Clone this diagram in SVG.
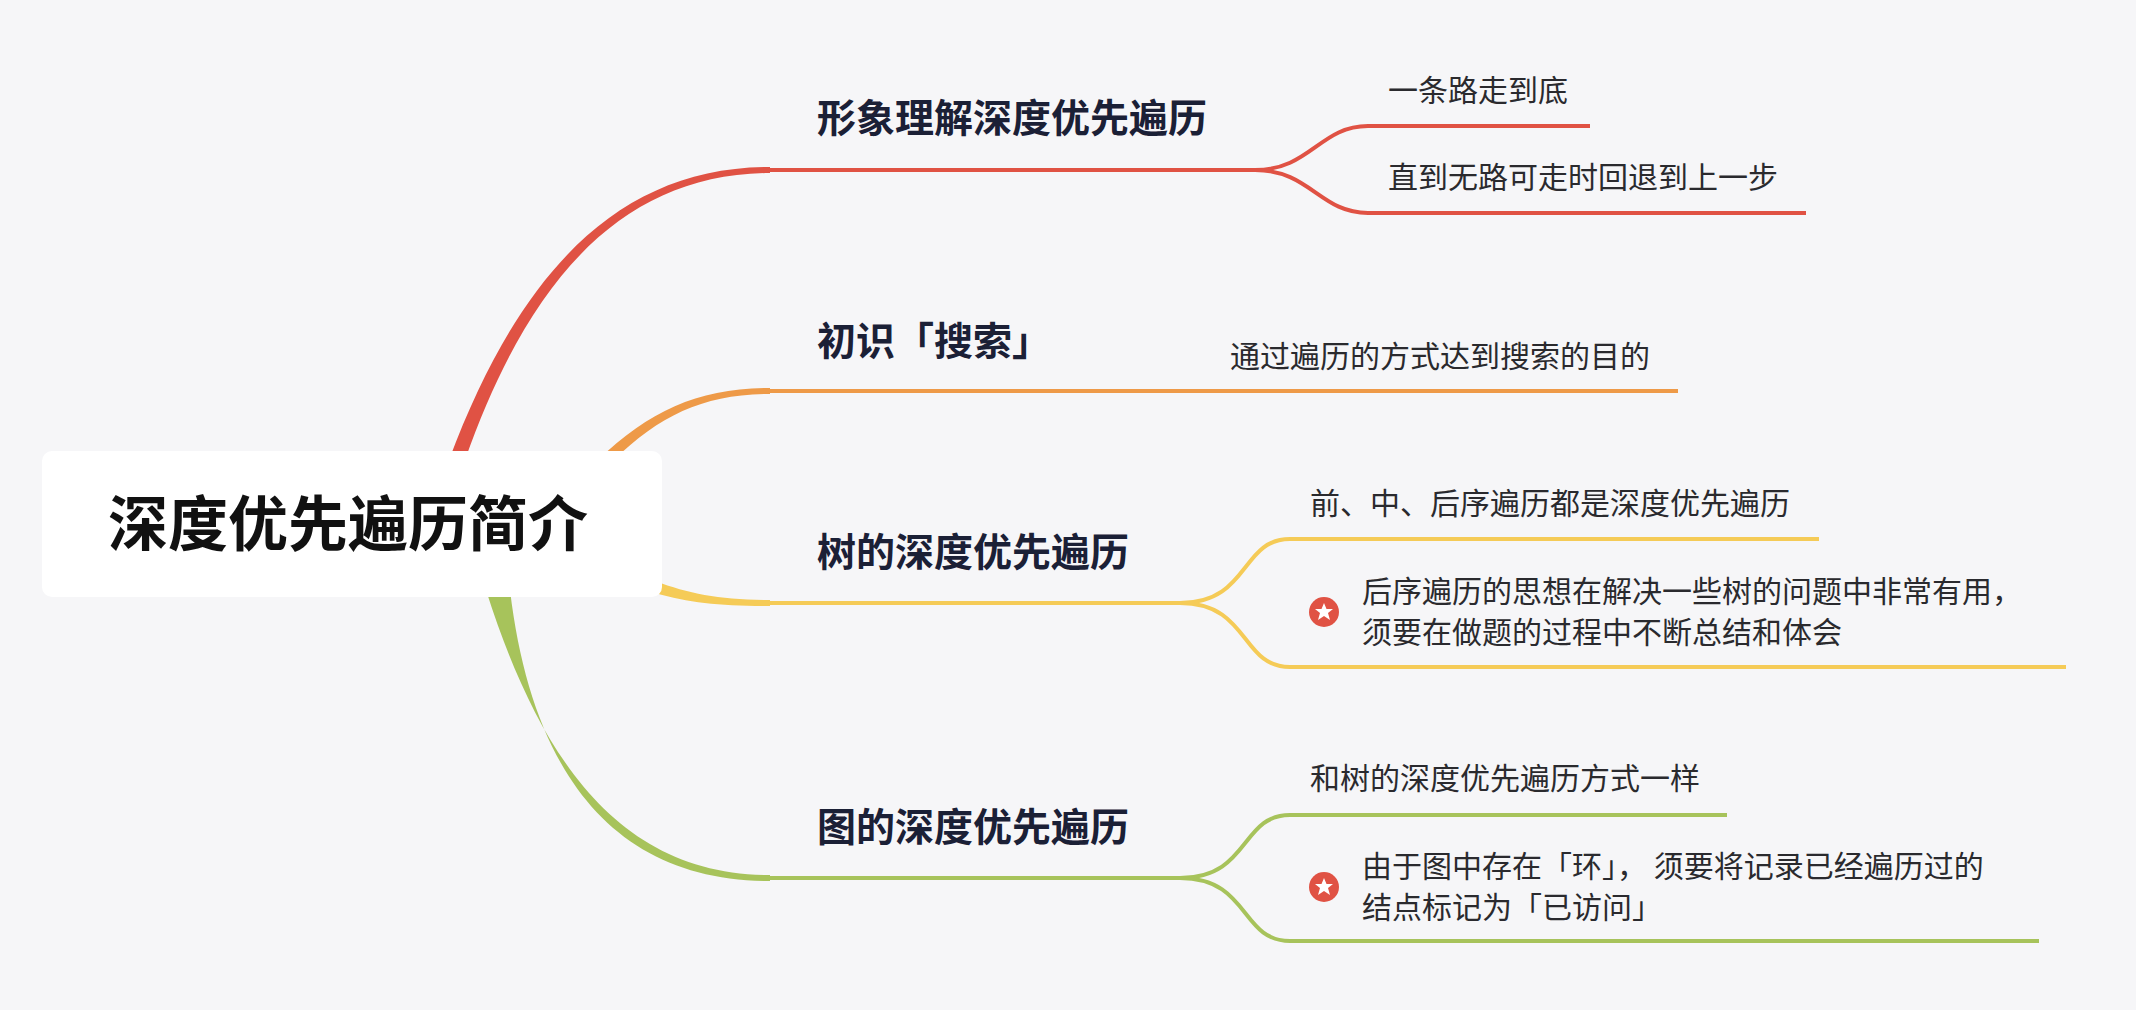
<svg xmlns="http://www.w3.org/2000/svg" width="2136" height="1010" viewBox="0 0 2136 1010">
<style>
.t{font-family:"Noto Sans CJK SC","Noto Sans",sans-serif;}
.main{font-size:39px;font-weight:bold;fill:#1B2036;}
.sub{font-size:30px;fill:#2A2A2E;}
.ln{fill:none;stroke-width:4;stroke-linecap:butt;}
</style>
<rect width="2136" height="1010" fill="#F6F6F8"/>
<g id="connectors">
<path d="M449 460 C520 270 620 167 770 167 L770 173 C625 174 530 275 465 460 Z" fill="#E05244"/>
<path d="M598 460 C650 410 700 388 770 388 L770 394 C705 394 660 415 614 460 Z" fill="#EE9A48"/>
<path d="M655 581 C690 594 720 600 770 600 L770 606 C720 606 690 603 655 593 Z" fill="#F5CB57"/>
<path d="M486 590 C540 760 620 875 770 875 L770 881 C615 881 532 775 510 590 Z" fill="#A7C35B"/>
<g class="ln" stroke="#E05244">
<path d="M768 170 H1255 C1310 170 1320 126 1368 126 H1590"/>
<path d="M1255 170 C1310 170 1320 213 1368 213 H1806"/>
</g>
<path class="ln" stroke="#EE9A48" d="M768 391 H1678"/>
<g class="ln" stroke="#F5CB57">
<path d="M768 603 H1180 C1250 603 1240 539 1290 539 H1819"/>
<path d="M1180 603 C1250 603 1240 667 1290 667 H2066"/>
</g>
<g class="ln" stroke="#A7C35B">
<path d="M768 878 H1180 C1250 878 1240 815 1290 815 H1727"/>
<path d="M1180 878 C1250 878 1240 941 1290 941 H2039"/>
</g>
</g>
<g id="root">
<rect x="42" y="451" width="620" height="146" rx="10" fill="#FFFFFF"/>
<text class="t" x="108" y="546" font-size="60" font-weight="bold" fill="#111">深度优先遍历简介</text>
</g>
<g id="n1"><text class="t main" x="817" y="132">形象理解深度优先遍历</text></g>
<g id="n1a"><text class="t sub" x="1388" y="101">一条路走到底</text></g>
<g id="n1b"><text class="t sub" x="1388" y="188">直到无路可走时回退到上一步</text></g>
<g id="n2"><text class="t main" x="817" y="355">初识「搜索」</text></g>
<g id="n2a"><text class="t sub" x="1230" y="367">通过遍历的方式达到搜索的目的</text></g>
<g id="n3"><text class="t main" x="817" y="566">树的深度优先遍历</text></g>
<g id="n3a"><text class="t sub" x="1310" y="514">前、中、后序遍历都是深度优先遍历</text></g>
<g id="n3b">
<circle cx="1324" cy="612" r="15" fill="#E05244"/>
<polygon points="1324,603 1326.5,609 1333,609 1328,613 1330,620 1324,616 1318,620 1320,613 1315,609 1321.5,609" fill="#fff"/>
<text class="t sub" x="1362" y="602">后序遍历的思想在解决一些树的问题中非常有用，</text>
<text class="t sub" x="1362" y="643">须要在做题的过程中不断总结和体会</text>
</g>
<g id="n4"><text class="t main" x="817" y="841">图的深度优先遍历</text></g>
<g id="n4a"><text class="t sub" x="1310" y="789">和树的深度优先遍历方式一样</text></g>
<g id="n4b">
<circle cx="1324" cy="887" r="15" fill="#E05244"/>
<polygon points="1324,878 1326.5,884 1333,884 1328,888 1330,895 1324,891 1318,895 1320,888 1315,884 1321.5,884" fill="#fff"/>
<text class="t sub" x="1362" y="877">由于图中存在「环」， 须要将记录已经遍历过的</text>
<text class="t sub" x="1362" y="918">结点标记为「已访问」</text>
</g>
</svg>
